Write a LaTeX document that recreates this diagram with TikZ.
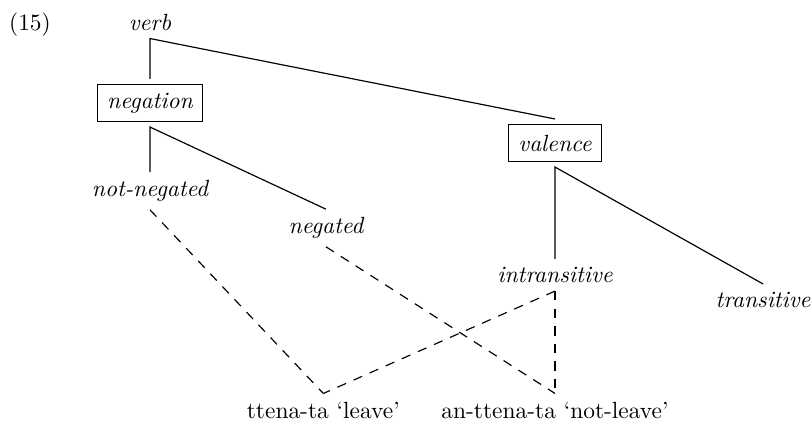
\documentclass[tikz,border=0pt]{standalone}
\usepackage{tikz}

\begin{document}
\begin{tikzpicture}[
  feat/.style={rectangle, draw, line width=0.5pt, inner xsep=4.2pt, minimum height=15.5pt, outer sep=2.5pt, font=\itshape},
  val/.style={font=\itshape},
  form/.style={font=\normalfont},
  isa/.style={line width=0.5pt},
  link/.style={line width=0.5pt, dash pattern=on 4pt off 3.5pt},
  node distance=2cm
]
\path[use as bounding box] (0,0) rectangle (12.18,-6.345);

\node[val] (verb) at (2.25,-0.33) {verb};
\node[left of=verb, node distance=1.8cm, yshift=-1pt] (ex) {(15)};
\node[feat, below of=verb, node distance=1.215cm] (negation) {negation};
\node[feat, right of=negation, node distance=6.075cm, yshift=-0.6cm] (valence) {valence};
\node[val, below of=negation, node distance=1.32cm] (notneg) {not-negated};
\node[val, right of=notneg, node distance=2.64cm, yshift=-0.555cm] (neg) {negated};
\node[val, below of=valence, node distance=1.98cm] (intrans) {intransitive};
\node[val, right of=intrans, node distance=3.12cm, yshift=-0.375cm] (trans) {transitive};
\node[form, below of=neg, node distance=2.73cm, xshift=-0.04cm] (leave) {ttena-ta `leave'};
\node[form, below of=intrans, node distance=2.025cm] (notleave) {an-ttena-ta `not-leave'};

% hierarchy
\draw[isa] (negation.north) -- (verb.south) -- (valence.north);
\draw[isa] (notneg.north) -- (negation.south) -- (neg.north);
\draw[isa] (intrans.north) -- (valence.south) -- (trans.north);

% lexical entries
\draw[link] (notneg.south) -- (leave.north);
\draw[link] (intrans.south) -- (leave.north);
\draw[link] (neg.south) -- (notleave.north);
\draw[link] (intrans.south) -- (notleave.north);
\end{tikzpicture}
\end{document}
